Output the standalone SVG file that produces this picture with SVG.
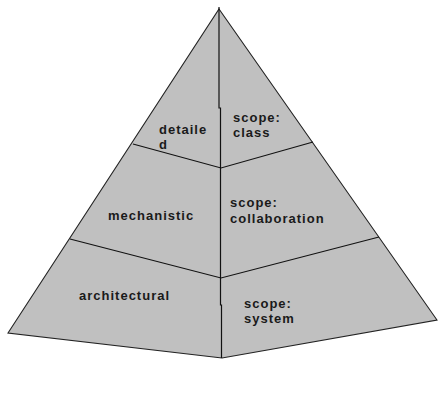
<svg xmlns="http://www.w3.org/2000/svg" width="438" height="406" viewBox="0 0 438 406">
<style>
.face{fill:#c0c0c0;stroke:#222;stroke-width:1.1}
.ln{fill:none;stroke:#111;stroke-width:1.2}
text{font-family:"Liberation Sans",Arial,sans-serif;font-weight:bold;font-size:13px;fill:#1a1a1a;letter-spacing:1px}
</style>
<rect width="438" height="406" fill="#fff"/>
<g id="pyramid">
<polygon class="face" points="219,9 437,320 222,358 8,333"/>
</g>
<g id="connectors">
<polyline class="ln" points="219,7 219,108 220.5,108 220.5,305 221.5,305 221.5,358"/>
<polyline class="ln" points="133,144 221,168 313,142"/>
<polyline class="ln" points="70,239 221,278 379,237"/>
</g>
<g id="detailed"><text x="159" y="134">detaile</text><text x="159" y="149">d</text></g>
<g id="scope-class"><text x="233" y="122">scope:</text><text x="233" y="137">class</text></g>
<g id="mechanistic"><text x="108" y="220">mechanistic</text></g>
<g id="scope-collaboration"><text x="230" y="207">scope:</text><text x="230" y="223">collaboration</text></g>
<g id="architectural"><text x="79" y="300">architectural</text></g>
<g id="scope-system"><text x="244" y="308">scope:</text><text x="244" y="323">system</text></g>
</svg>
